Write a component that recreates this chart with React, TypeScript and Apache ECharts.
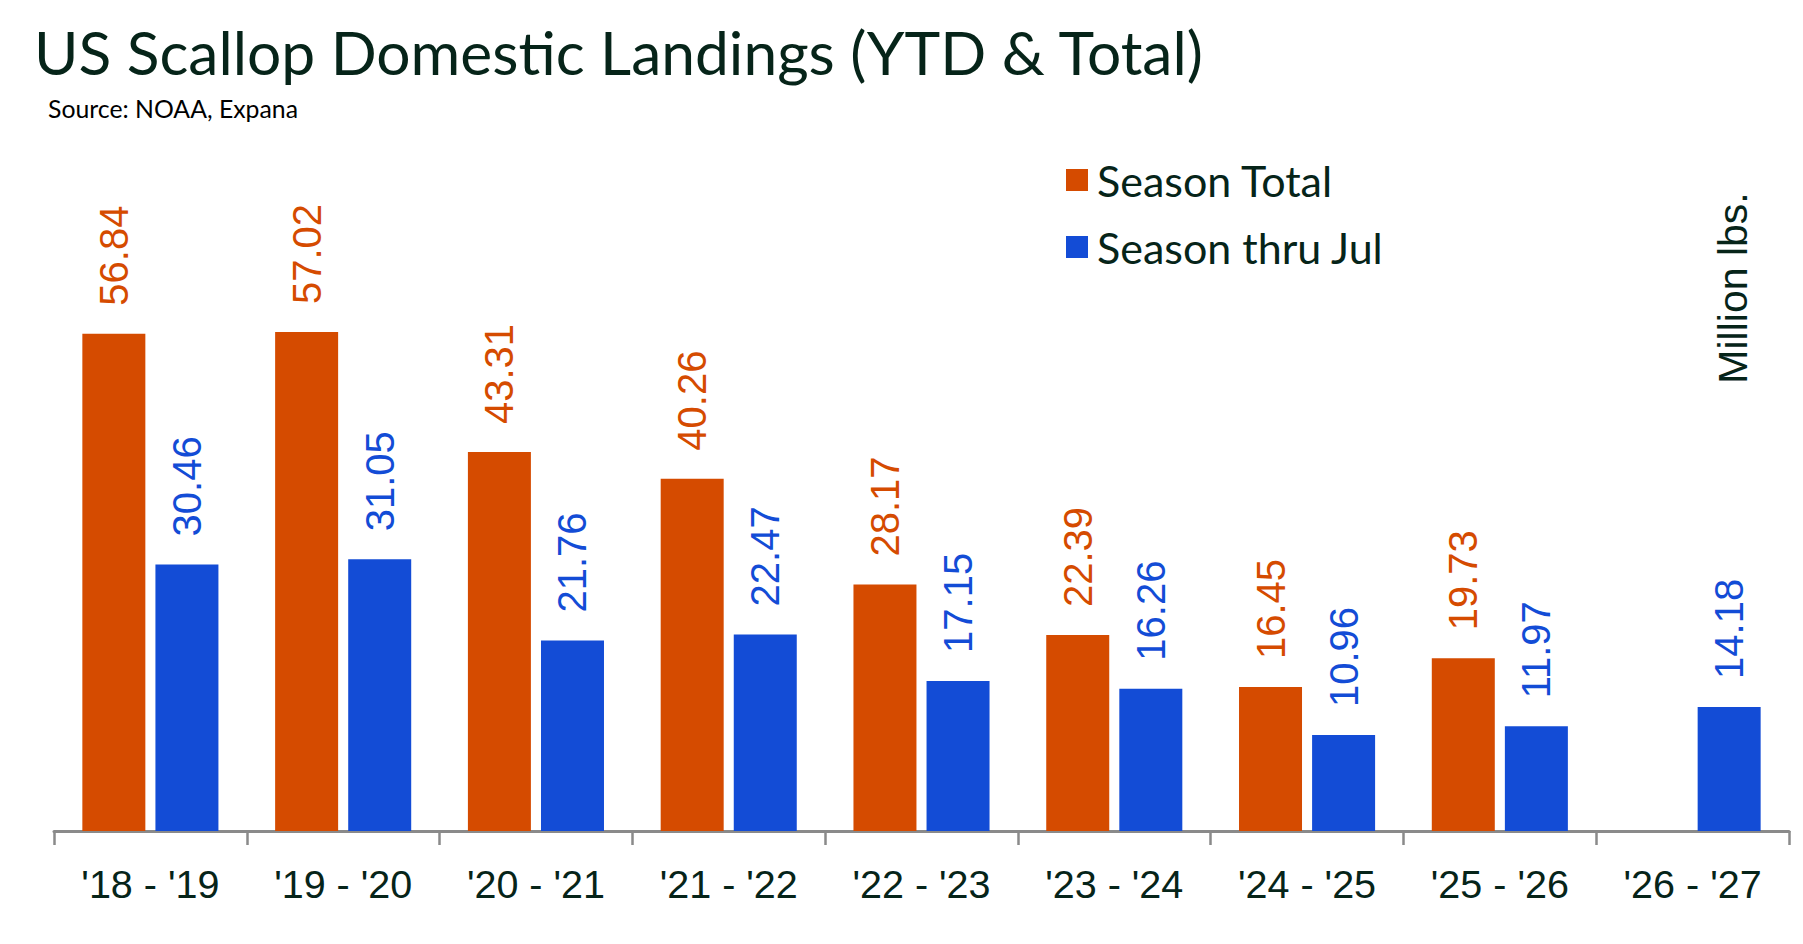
import React, { useEffect, useRef } from "react";
import * as echarts from "echarts";

const categories = ["'18 - '19", "'19 - '20", "'20 - '21", "'21 - '22", "'22 - '23", "'23 - '24", "'24 - '25", "'25 - '26", "'26 - '27"];
const seasonTotal: (number | null)[] = [56.84, 57.02, 43.31, 40.26, 28.17, 22.39, 16.45, 19.73, null];
const seasonThruJul: number[] = [30.46, 31.05, 21.76, 22.47, 17.15, 16.26, 10.96, 11.97, 14.18];
const seriesNames = ["Season Total", "Season thru Jul"];

const ORANGE = "#D54B00";
const BLUE = "#134CD6";
const DARK = "#062419";

export default function App() {
  const ref = useRef<HTMLDivElement>(null);
  useEffect(() => {
    document.body.style.margin = "0";
    if (!ref.current) return;
    const chart = echarts.init(ref.current, undefined, { renderer: "svg" });
    const labelCommon = {
      show: true,
      position: "top" as const,
      rotate: 90,
      align: "left" as const,
      verticalAlign: "middle" as const,
      distance: 28,
      fontFamily: "Liberation Sans",
      fontSize: 40,
      formatter: (p: any) => (p.value == null ? "" : Number(p.value).toFixed(2)),
    };
    chart.setOption({
      animation: false,
      backgroundColor: "#ffffff",
      title: [
        {
          text: "US Scallop Domestic Landings (YTD & Total)",
          left: 34,
          top: 21,
          padding: 0,
          textStyle: { fontFamily: "Lato", fontWeight: "normal", fontSize: 60.5, lineHeight: 60, color: DARK },
        },
        {
          text: "Source: NOAA, Expana",
          left: 48,
          top: 96,
          padding: 0,
          textStyle: { fontFamily: "Lato", fontWeight: "normal", fontSize: 24.8, lineHeight: 24, color: "#000000" },
        },
      ],
      legend: {
        orient: "vertical",
        left: 1066,
        top: 151.5,
        padding: 0,
        itemWidth: 22,
        itemHeight: 22,
        itemGap: 10,
        icon: "rect",
        data: seriesNames,
        textStyle: { fontFamily: "Lato", fontSize: 43, lineHeight: 44, color: DARK, padding: [0, 0, 13, 4] },
      },
      grid: { left: 54, right: 14, top: 131, bottom: 113, containLabel: false },
      xAxis: {
        type: "category",
        data: categories,
        axisLine: { show: true, lineStyle: { color: "#8a8a8a", width: 3 } },
        axisTick: { show: true, length: 14, interval: 0, lineStyle: { color: "#8a8a8a", width: 2.5 } },
        axisLabel: {
          interval: 0,
          margin: 33,
          fontFamily: "Liberation Sans",
          fontSize: 39.5,
          lineHeight: 40,
          color: DARK,
        },
      },
      yAxis: {
        type: "value",
        min: 0,
        max: 80,
        show: false,
        splitLine: { show: false },
      },
      series: [
        {
          name: seriesNames[0],
          type: "bar",
          data: seasonTotal.map((v) => (v == null ? "-" : v)),
          barWidth: 63,
          barGap: "16%",
          itemStyle: { color: ORANGE },
          label: { ...labelCommon, color: ORANGE },
        },
        {
          name: seriesNames[1],
          type: "bar",
          data: seasonThruJul,
          barWidth: 63,
          barGap: "16%",
          itemStyle: { color: BLUE },
          label: { ...labelCommon, color: BLUE },
        },
      ],
      graphic: [
        {
          type: "text",
          x: 1733,
          y: 288,
          rotation: Math.PI / 2,
          style: {
            text: "Million lbs.",
            fontFamily: "Liberation Sans",
            fontSize: 41,
            fill: DARK,
            align: "center",
            verticalAlign: "middle",
          },
        },
      ],
    });
    return () => chart.dispose();
  }, []);
  return <div ref={ref} style={{ width: 1803, height: 944 }} />;
}
